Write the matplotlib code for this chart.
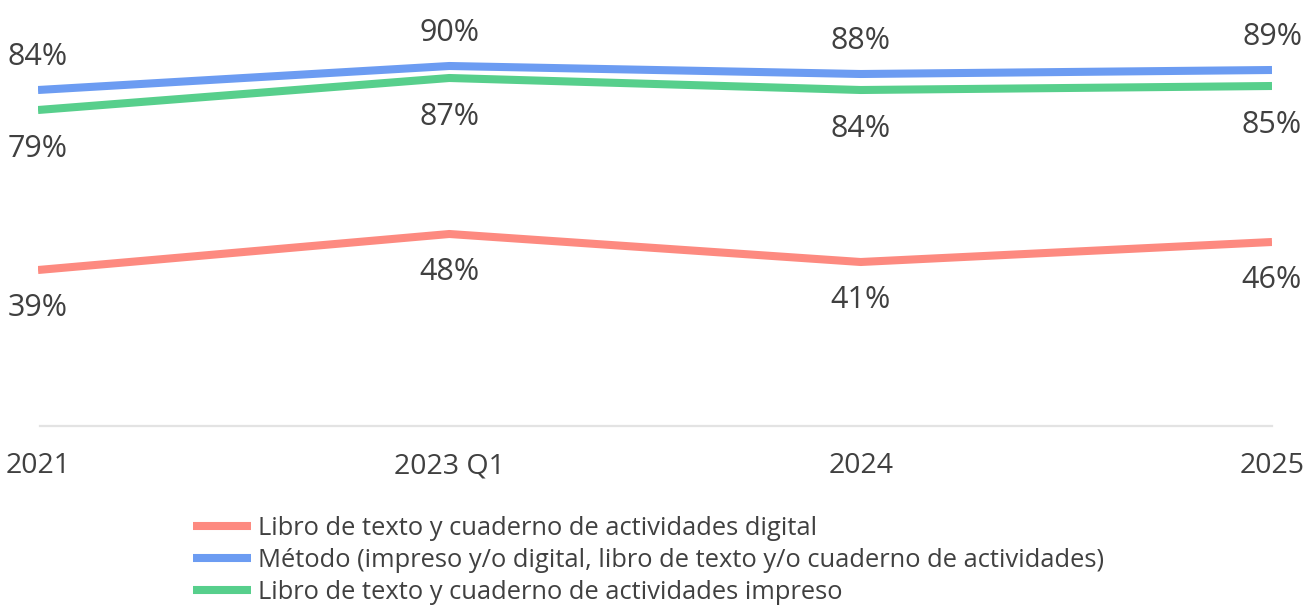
import matplotlib
matplotlib.use("Agg")
import matplotlib.pyplot as plt
from matplotlib import font_manager

periods = ["2021", "2023 Q1", "2024", "2025"]
digital = [39, 48, 41, 46]
metodo = [84, 90, 88, 89]
impreso = [79, 87, 84, 85]

names = ["Libro de texto y cuaderno de actividades digital",
         "Método (impreso y/o digital, libro de texto y/o cuaderno de actividades)",
         "Libro de texto y cuaderno de actividades impreso"]

installed = {f.name for f in font_manager.fontManager.ttflist}
font = "Liberation Sans Narrow" if "Liberation Sans Narrow" in installed else "Open Sans"
plt.rcParams["font.family"] = [font, "DejaVu Sans"]

txt = "#404040"
red, blue, green = "#fd8a80", "#6c9cf2", "#57cf8c"

fig = plt.figure(figsize=(13.16, 6.10), dpi=100)
ax = fig.add_axes([38 / 1316, 184 / 610, 1234 / 1316, 400 / 610])

x = list(range(len(periods)))
l1, = ax.plot(x, digital, color=red, lw=5.8, solid_capstyle="butt", solid_joinstyle="round")
l2, = ax.plot(x, metodo, color=blue, lw=5.8, solid_capstyle="butt", solid_joinstyle="round")
l3, = ax.plot(x, impreso, color=green, lw=5.8, solid_capstyle="butt", solid_joinstyle="round")

# value labels: blue above, green and red below
for i in x:
    ax.annotate(f"{metodo[i]}%", (i, metodo[i]), xytext=(0, 24), textcoords="offset points",
                ha="center", va="center", fontsize=22, color=txt, clip_on=False)
    ax.annotate(f"{impreso[i]}%", (i, impreso[i]), xytext=(0, -28), textcoords="offset points",
                ha="center", va="center", fontsize=22, color=txt, clip_on=False)
    ax.annotate(f"{digital[i]}%", (i, digital[i]), xytext=(0, -27.4), textcoords="offset points",
                ha="center", va="center", fontsize=22, color=txt, clip_on=False)

ax.set_xlim(0, 3)
ax.set_ylim(0, 100)
ax.axhline(0, xmin=0.002, color="#e3e3e3", lw=1.6, clip_on=False)
for s in ax.spines.values():
    s.set_visible(False)
ax.set_yticks([])
ax.set_xticks(x)
ax.set_xticklabels(periods, fontsize=20.5, color=txt)
ax.tick_params(axis="x", length=0, pad=19)

fig.legend([l1, l2, l3], names, loc="upper left", bbox_to_anchor=(193 / 1316, 1 - 516 / 610),
           frameon=False, fontsize=18.4, labelcolor=txt, handlelength=2.25,
           handletextpad=0.3, labelspacing=0.28, borderaxespad=0, borderpad=0)

fig.savefig("out.png", dpi=100)
